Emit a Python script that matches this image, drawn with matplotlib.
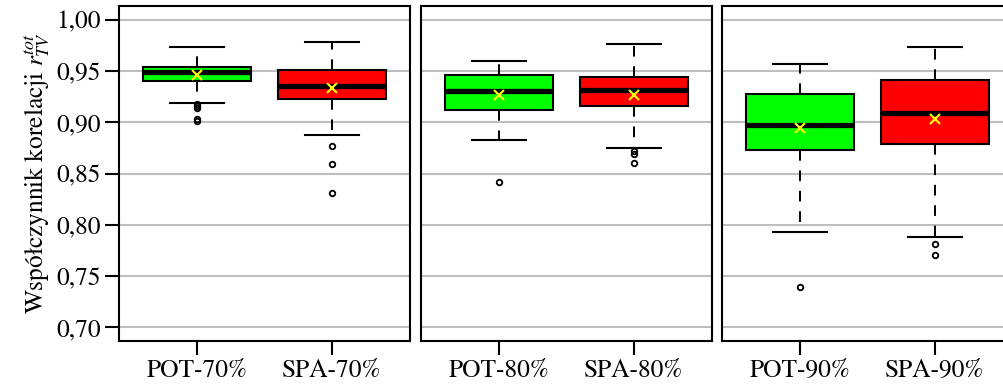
import matplotlib.pyplot as plt
import numpy as np

plt.rcParams['font.family'] = ['STIXGeneral', 'Liberation Serif', 'DejaVu Serif']
plt.rcParams['mathtext.fontset'] = 'stix'

labels = ["POT-70%", "SPA-70%", "POT-80%", "SPA-80%", "POT-90%", "SPA-90%"]
whislo = [0.9188, 0.8878, 0.8830, 0.8752, 0.7932, 0.7884]
q1 = [0.9402, 0.9230, 0.9116, 0.9158, 0.8729, 0.8788]
med = [0.9487, 0.9350, 0.9305, 0.9311, 0.8970, 0.9087]
q3 = [0.9539, 0.9509, 0.9461, 0.9438, 0.9278, 0.9412]
whishi = [0.9734, 0.9785, 0.9600, 0.9766, 0.9571, 0.9731]
means = [0.9458, 0.9337, 0.9269, 0.9269, 0.8944, 0.9032]
fliers = [
    [0.9175, 0.9155, 0.9140, 0.9030, 0.9015],
    [0.8771, 0.8590, 0.8310],
    [0.8420],
    [0.8720, 0.8687, 0.8602],
    [0.7390],
    [0.7810, 0.7705],
]
colors = ["#00ff00", "#ff0000"]
yticks = [0.70, 0.75, 0.80, 0.85, 0.90, 0.95, 1.00]

W, H = 1004, 385
fig = plt.figure(figsize=(W / 100, H / 100), dpi=100)

lefts = [119, 421, 722]
pw, top, bot = 291, 6, 340.5
fs = 18.3

for p in range(3):
    ax = fig.add_axes([lefts[p] / W, 1 - bot / H, pw / W, (bot - top) / H])
    stats = []
    for i in (2 * p, 2 * p + 1):
        stats.append(dict(label=labels[i], whislo=whislo[i], q1=q1[i], med=med[i],
                          q3=q3[i], whishi=whishi[i], mean=means[i], fliers=fliers[i]))
    bp = ax.bxp(stats, positions=[1, 2], widths=0.8, patch_artist=True,
                showmeans=True,
                boxprops=dict(edgecolor='black', linewidth=1.5),
                medianprops=dict(color='black', linewidth=3.8, solid_capstyle='butt'),
                whiskerprops=dict(color='black', linewidth=1.4, linestyle=(0, (5.5, 5))),
                capprops=dict(color='black', linewidth=1.5),
                capwidths=0.4,
                flierprops=dict(marker='o', markersize=4, markerfacecolor='none',
                                markeredgecolor='black', markeredgewidth=1.3),
                meanprops=dict(marker='x', markersize=6.5, markeredgecolor='#ffff00',
                               markeredgewidth=1.5))
    for patch, c in zip(bp['boxes'], colors):
        patch.set_facecolor(c)

    ax.set_xlim(0.42, 2.58)
    ax.set_ylim(0.70 - 13.2 / 1025.3, 1.00 + 13.7 / 1025.3)
    ax.set_yticks(yticks)
    ax.yaxis.grid(True, color='#bebebe', linewidth=1.5)
    ax.set_axisbelow(True)
    for s in ax.spines.values():
        s.set_linewidth(1.5)
    ax.tick_params(axis='both', length=10, width=1.5, labelsize=fs, pad=3)
    ax.set_xticks([1, 2])
    ax.set_xticklabels(labels[2 * p:2 * p + 2])
    if p == 0:
        ax.set_yticklabels([f"{v:.2f}".replace('.', ',') for v in yticks])
        ax.set_ylabel(r"Współczynnik korelacji $r_{TV}^{tot}$", fontsize=fs, labelpad=3)
    else:
        ax.tick_params(axis='y', left=False, labelleft=False)

fig.savefig("out.png", dpi=100)
